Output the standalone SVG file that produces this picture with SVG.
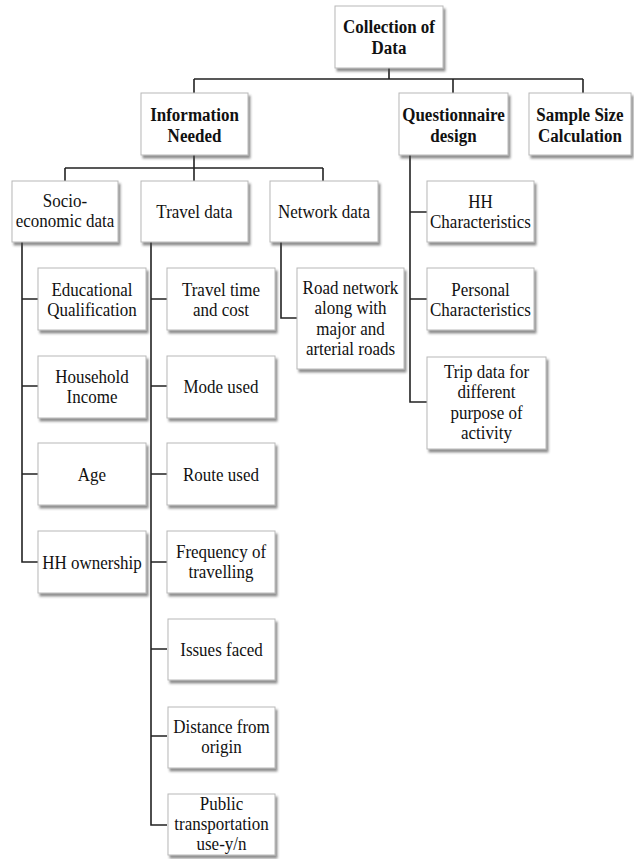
<svg xmlns="http://www.w3.org/2000/svg" width="634" height="859" viewBox="0 0 634 859">
<style>
.box{fill:#fff;stroke:#b8b8b8;stroke-width:1;filter:url(#sh)}
.t{font-family:'Liberation Serif','Times New Roman','DejaVu Serif',serif;font-size:17px;fill:#111;text-anchor:middle}
.t text{transform-box:fill-box;transform-origin:center;transform:scaleY(1.12)}
.b{font-weight:bold}
.con{fill:none;stroke:#222;stroke-width:1.6}
</style>
<defs>
<filter id="sh" x="-10%" y="-10%" width="130%" height="130%">
<feDropShadow dx="2" dy="3" stdDeviation="1.3" flood-color="#444" flood-opacity="0.6"/>
</filter>
</defs>
<rect width="634" height="859" fill="#fff"/>
<g id="connectors" class="con">
<path d="M389 68V79M194 79H583M194 79V93M453 79V93M583 79V93"/>
<path d="M194 155V181M65 168H323M65 168V181M323 168V181"/>
<path d="M22 242V562H38M22 299H38M22 386H38M22 474H38"/>
<path d="M151 242V825H167M151 299H167M151 386H167M151 474H167M151 562H167M151 649H167M151 736H167"/>
<path d="M281 242V318H297"/>
<path d="M410 155V402H427M410 212H427M410 299H427"/>
</g>
<g class="t" font-family="Liberation Serif, serif">
<g id="collection"><rect class="box" x="335" y="6" width="108" height="62"/><text class="b" x="389" y="32">Collection of</text><text class="b" x="389" y="53">Data</text></g>
<g id="information"><rect class="box" x="141" y="93" width="107" height="62"/><text class="b" x="194.5" y="120">Information</text><text class="b" x="194.5" y="141">Needed</text></g>
<g id="questionnaire"><rect class="box" x="399" y="93" width="109" height="62"/><text class="b" x="453.5" y="120">Questionnaire</text><text class="b" x="453.5" y="141">design</text></g>
<g id="sample"><rect class="box" x="529" y="93" width="102" height="62"/><text class="b" x="580" y="120">Sample Size</text><text class="b" x="580" y="141">Calculation</text></g>
<g id="socio"><rect class="box" x="12" y="181" width="106" height="61"/><text x="65" y="206">Socio-</text><text x="65" y="226">economic data</text></g>
<g id="travel"><rect class="box" x="141" y="181" width="107" height="61"/><text x="194.5" y="217">Travel data</text></g>
<g id="network"><rect class="box" x="270" y="181" width="108" height="61"/><text x="324" y="217">Network data</text></g>
<g id="hhchar"><rect class="box" x="427" y="181" width="107" height="61"/><text x="480.5" y="207">HH</text><text x="480.5" y="227">Characteristics</text></g>
<g id="edu"><rect class="box" x="38" y="268" width="108" height="62"/><text x="92" y="295">Educational</text><text x="92" y="315">Qualification</text></g>
<g id="traveltime"><rect class="box" x="167" y="268" width="108" height="62"/><text x="221" y="295">Travel time</text><text x="221" y="315">and cost</text></g>
<g id="road"><rect class="box" x="297" y="268" width="107" height="101"/><text x="350.5" y="293">Road network</text><text x="350.5" y="313.5">along with</text><text x="350.5" y="334">major and</text><text x="350.5" y="354.5">arterial roads</text></g>
<g id="personal"><rect class="box" x="427" y="268" width="107" height="62"/><text x="480.5" y="295">Personal</text><text x="480.5" y="315">Characteristics</text></g>
<g id="trip"><rect class="box" x="427" y="357" width="119" height="92"/><text x="486.5" y="377">Trip data for</text><text x="486.5" y="397">different</text><text x="486.5" y="418">purpose of</text><text x="486.5" y="438">activity</text></g>
<g id="household"><rect class="box" x="38" y="356" width="108" height="62"/><text x="92" y="382">Household</text><text x="92" y="402">Income</text></g>
<g id="mode"><rect class="box" x="167" y="356" width="108" height="62"/><text x="221" y="392">Mode used</text></g>
<g id="age"><rect class="box" x="38" y="443" width="108" height="62"/><text x="92" y="480">Age</text></g>
<g id="route"><rect class="box" x="167" y="443" width="108" height="62"/><text x="221" y="480">Route used</text></g>
<g id="hhown"><rect class="box" x="38" y="531" width="108" height="62"/><text x="92" y="568">HH ownership</text></g>
<g id="frequency"><rect class="box" x="167" y="531" width="108" height="62"/><text x="221" y="557">Frequency of</text><text x="221" y="577">travelling</text></g>
<g id="issues"><rect class="box" x="168" y="619" width="107" height="61"/><text x="221.5" y="655">Issues faced</text></g>
<g id="distance"><rect class="box" x="168" y="707" width="107" height="61"/><text x="221.5" y="732">Distance from</text><text x="221.5" y="752">origin</text></g>
<g id="public"><rect class="box" x="168" y="794" width="107" height="61"/><text x="221.5" y="809">Public</text><text x="221.5" y="829">transportation</text><text x="221.5" y="849">use-y/n</text></g>
</g>
</svg>
